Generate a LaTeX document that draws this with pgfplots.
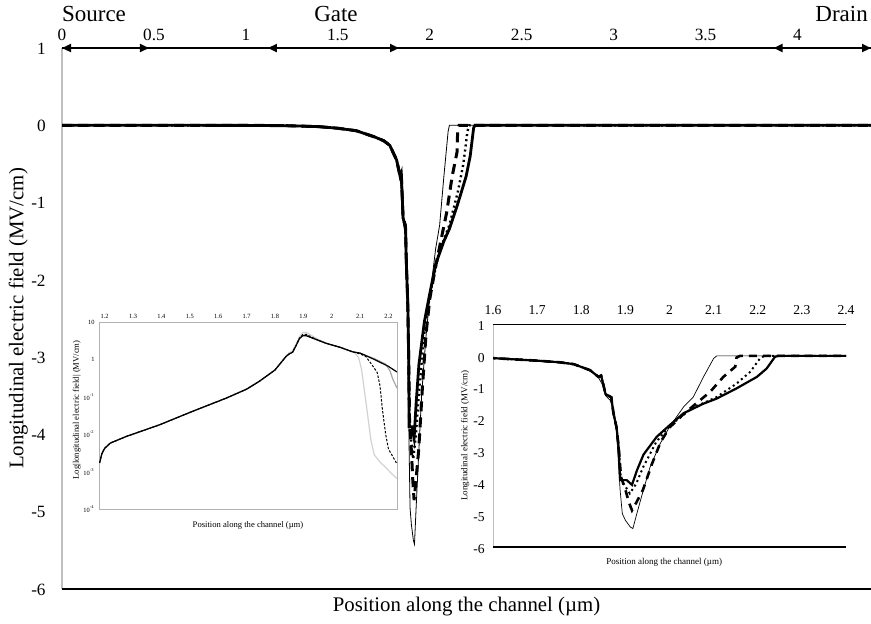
\documentclass[border=0pt]{standalone}
\usepackage{fontspec}
\setmainfont{Liberation Serif}
\usepackage{pgfplots}
\pgfplotsset{compat=1.18}
\usepackage{pgfplotstable}
\usetikzlibrary{arrows.meta}

% ---- linear data (position um, field MV/cm) ----
\pgfplotstableread{
x y
0 0
0.5 0
1.0 -0.001
1.2 -0.004
1.3 -0.01
1.4 -0.018
1.5 -0.038
1.6 -0.07
1.7 -0.15
1.75 -0.2
1.783 -0.26
1.82 -0.45
1.839 -0.66
1.845 -0.62
1.85 -0.9
1.855 -1.2
1.868 -1.3
1.873 -1.8
1.88 -2.25
1.885 -2.9
1.888 -3.9
1.903 -3.9
1.915 -4.05
1.926 -3.6
1.941 -3.1
1.971 -2.54
2.0 -2.18
2.032 -1.8
2.077 -1.5
2.107 -1.34
2.152 -1.02
2.198 -0.66
2.22 -0.4
2.239 -0.03
2.247 0
2.4 0
4.4 0
}\thickdata

\pgfplotstableread{
x y
0 0
0.5 0
1.0 -0.001
1.2 -0.004
1.3 -0.01
1.4 -0.018
1.5 -0.038
1.6 -0.07
1.7 -0.15
1.75 -0.2
1.783 -0.26
1.82 -0.45
1.839 -0.68
1.85 -0.95
1.855 -1.25
1.866 -1.4
1.873 -1.75
1.88 -2.4
1.884 -3.3
1.888 -4.2
1.893 -4.95
1.9 -5.16
1.911 -5.37
1.917 -5.42
1.926 -4.95
1.941 -4.2
1.956 -3.49
1.979 -2.75
2.0 -2.23
2.032 -1.6
2.054 -1.29
2.077 -0.66
2.1 -0.08
2.107 0
4.4 0
}\thindata

\pgfplotstableread{
x y
0 0
0.5 0
1.0 -0.001
1.2 -0.004
1.3 -0.01
1.4 -0.018
1.5 -0.038
1.6 -0.07
1.7 -0.15
1.75 -0.2
1.783 -0.26
1.82 -0.45
1.839 -0.66
1.845 -0.62
1.85 -0.9
1.855 -1.2
1.868 -1.3
1.873 -1.8
1.88 -2.25
1.885 -2.9
1.89 -3.8
1.9 -4.2
1.908 -4.6
1.915 -4.85
1.925 -4.6
1.94 -4.2
1.96 -3.4
1.98 -2.7
2.0 -2.25
2.03 -1.85
2.06 -1.5
2.092 -1.13
2.122 -0.66
2.149 -0.34
2.152 -0.05
2.16 0
4.4 0
}\dashdata

\pgfplotstableread{
x y
0 0
0.5 0
1.0 -0.001
1.2 -0.004
1.3 -0.01
1.4 -0.018
1.5 -0.038
1.6 -0.07
1.7 -0.15
1.75 -0.2
1.783 -0.26
1.82 -0.45
1.839 -0.66
1.845 -0.62
1.85 -0.9
1.855 -1.2
1.868 -1.3
1.873 -1.8
1.88 -2.25
1.885 -2.9
1.89 -3.9
1.9 -4.1
1.91 -4.32
1.925 -4.0
1.94 -3.5
1.97 -2.7
2.0 -2.2
2.05 -1.65
2.107 -1.29
2.152 -0.87
2.183 -0.5
2.205 -0.08
2.215 0
4.4 0
}\dotdata

% ---- log inset data (|E|, MV/cm) ----
\pgfplotstableread{
x y
1.182 0.0017
1.19 0.003
1.2 0.0042
1.22 0.0058
1.276 0.0087
1.393 0.0178
1.51 0.041
1.628 0.092
1.7 0.16
1.745 0.26
1.8 0.52
1.839 1.2
1.85 1.4
1.862 1.55
1.875 2.4
1.886 3.6
1.898 4.3
1.91 4.3
1.95 3.3
1.98 2.7
2.03 2.1
2.073 1.6
2.1 1.48
2.15 1.0
2.2 0.65
2.23 0.46
}\logblack

\pgfplotstableread{
x y
1.182 0.0017
1.19 0.003
1.2 0.0042
1.22 0.0058
1.276 0.0087
1.393 0.0178
1.51 0.041
1.628 0.092
1.7 0.16
1.745 0.26
1.8 0.52
1.839 1.2
1.85 1.4
1.862 1.55
1.875 2.4
1.886 3.6
1.898 4.4
1.91 4.4
1.95 3.3
1.98 2.7
2.03 2.1
2.073 1.6
2.1 1.45
2.15 1.05
2.19 0.75
2.205 0.5
2.215 0.3
2.23 0.17
}\loggray

\pgfplotstableread{
x y
1.182 0.0017
1.19 0.003
1.2 0.0042
1.22 0.0058
1.276 0.0087
1.393 0.0178
1.51 0.041
1.628 0.092
1.7 0.16
1.745 0.26
1.8 0.52
1.839 1.2
1.85 1.4
1.862 1.55
1.875 2.4
1.886 3.6
1.898 4.6
1.91 4.7
1.95 3.3
1.98 2.7
2.03 2.1
2.073 1.6
2.1 1.4
2.12 1.2
2.14 0.75
2.16 0.45
2.17 0.2
2.178 0.05
2.19 0.01
2.2 0.004
2.23 0.0016
}\logdash

\pgfplotstableread{
x y
1.182 0.0017
1.19 0.003
1.2 0.0042
1.22 0.0058
1.276 0.0087
1.393 0.0178
1.51 0.041
1.628 0.092
1.7 0.16
1.745 0.26
1.8 0.52
1.839 1.2
1.85 1.5
1.862 1.7
1.875 2.6
1.886 4.0
1.898 5.2
1.91 5.3
1.95 3.5
1.98 2.75
2.03 2.1
2.08 1.55
2.095 1.1
2.105 0.55
2.115 0.15
2.125 0.04
2.138 0.007
2.15 0.0028
2.17 0.0018
2.19 0.0013
2.21 0.0009
2.23 0.00065
}\loglight

\begin{document}
\begin{tikzpicture}
\path[use as bounding box] (-31pt,-17pt) rectangle (404.5pt,294.5pt);

% ================= main axis =================
\begin{axis}[
  at={(0pt,0pt)}, anchor=south west,
  scale only axis, width=404.5pt, height=270.5pt,
  xmin=0, xmax=4.4, ymin=-6, ymax=1,
  clip=false,
  axis line style={draw=none},
  xtick={0,0.5,1,1.5,2,2.5,3,3.5,4},
  xticklabels={0,0.5,1,1.5,2,2.5,3,3.5,4},
  xticklabel pos=upper,
  ytick={-6,-5,-4,-3,-2,-1,0,1},
  yticklabels={-6,-5,-4,-3,-2,-1,0,1},
  major tick length=0pt,
  tick label style={font=\fontsize{8.6}{10}\selectfont, inner sep=0pt, text height=1.45ex, text depth=0.1ex},
  xticklabel style={yshift=3.3pt},
  yticklabel style={xshift=-8pt},
  xlabel={Position along the channel (µm)},
  ylabel={Longitudinal electric field (MV/cm)},
  label style={font=\fontsize{10.4}{12}\selectfont},
  xlabel style={at={(axis description cs:0.5,-0.033)}, anchor=center},
  ylabel style={at={(axis description cs:-0.054,0.5)}, anchor=center},
]
\draw[gray!50, line width=0.6pt] (rel axis cs:0,0) -- (rel axis cs:0,1);
\draw[black, line width=0.8pt] (rel axis cs:0,0) -- (rel axis cs:1,0);
\draw[black, line width=0.8pt] (rel axis cs:0,1) -- (rel axis cs:1,1);
\draw[black, line width=1pt, {Triangle[length=4.5pt,width=4pt]}-{Triangle[length=4.5pt,width=4pt]}] (axis cs:0,1) -- (axis cs:0.473,1);
\draw[black, line width=1pt, {Triangle[length=4.5pt,width=4pt]}-{Triangle[length=4.5pt,width=4pt]}] (axis cs:1.12,1) -- (axis cs:1.833,1);
\draw[black, line width=1pt, {Triangle[length=4.5pt,width=4pt]}-{Triangle[length=4.5pt,width=4pt]}] (axis cs:3.87,1) -- (axis cs:4.4,1);
\node[font=\fontsize{11.5}{13}\selectfont, inner sep=0pt] at (axis cs:0.174,1.435) {Source};
\node[font=\fontsize{11.5}{13}\selectfont, inner sep=0pt] at (axis cs:1.49,1.435) {Gate};
\node[font=\fontsize{11.5}{13}\selectfont, inner sep=0pt] at (axis cs:4.24,1.435) {Drain};

\addplot[black, line width=0.4pt] table {\thindata};
\addplot[black, line width=1.5pt, dash pattern=on 5pt off 3pt] table {\dashdata};
\addplot[black, line width=1.2pt, dash pattern=on 1pt off 1.6pt] table {\dotdata};
\addplot[black, line width=1.4pt] table {\thickdata};
\end{axis}

% ================= left inset (log) =================
\begin{axis}[
  at={(18.5pt,40pt)}, anchor=south west,
  scale only axis, width=149pt, height=93.5pt,
  xmin=1.18, xmax=2.23, ymode=log, ymin=1e-4, ymax=10,
  axis background/.style={fill=white},
  axis line style={gray!60, line width=0.5pt},
  xtick={1.2,1.3,1.4,1.5,1.6,1.7,1.8,1.9,2.0,2.1,2.2},
  xticklabels={1.2,1.3,1.4,1.5,1.6,1.7,1.8,1.9,2,2.1,2.2},
  xticklabel pos=upper,
  ytick={1e-4,1e-3,1e-2,1e-1,1,10},
  yticklabels={10\textsuperscript{-4},10\textsuperscript{-3},10\textsuperscript{-2},10\textsuperscript{-1},1,10},
  major tick length=0pt, minor tick length=0pt,
  tick label style={font=\fontsize{3.2}{4}\selectfont, inner sep=0.5pt},
  xticklabel style={yshift=0.5pt, text height=1.45ex, text depth=0.1ex},
  yticklabel style={xshift=-1.5pt},
  xlabel={Position along the channel (µm)},
  ylabel={Log|longitudinal electric field| (MV/cm)},
  label style={font=\fontsize{4.3}{5}\selectfont, inner sep=0pt},
  xlabel style={at={(axis description cs:0.5,-0.09)}, anchor=center},
  ylabel style={at={(axis description cs:-0.075,0.53)}, anchor=center},
]
\addplot[gray!35, line width=0.6pt] table {\loglight};
\addplot[gray!70, line width=0.6pt] table {\loggray};
\addplot[black, line width=0.5pt, dash pattern=on 1.2pt off 0.8pt] table {\logdash};
\addplot[black, line width=0.6pt] table {\logblack};
\end{axis}

% ================= right inset (linear zoom) =================
\begin{axis}[
  at={(215.5pt,21pt)}, anchor=south west,
  scale only axis, width=176.5pt, height=111.5pt,
  xmin=1.6, xmax=2.4, ymin=-6, ymax=1,
  axis background/.style={fill=white},
  axis line style={draw=none},
  xtick={1.6,1.7,1.8,1.9,2.0,2.1,2.2,2.3,2.4},
  xticklabels={1.6,1.7,1.8,1.9,2,2.1,2.2,2.3,2.4},
  xticklabel pos=upper,
  ytick={-6,-5,-4,-3,-2,-1,0,1},
  yticklabels={-6,-5,-4,-3,-2,-1,0,1},
  major tick length=0pt,
  tick label style={font=\fontsize{6.8}{8}\selectfont, inner sep=0pt, text height=1.45ex, text depth=0.1ex},
  xticklabel style={yshift=4pt},
  yticklabel style={xshift=-4pt},
  xlabel={Position along the channel (µm)},
  ylabel={Longitudinal electric field (MV/cm)},
  label style={font=\fontsize{4.5}{5.5}\selectfont, inner sep=0pt},
  xlabel style={at={(axis description cs:0.485,-0.067)}, anchor=center},
  ylabel style={at={(axis description cs:-0.079,0.5)}, anchor=center},
]
\draw[gray!50, line width=0.5pt] (rel axis cs:0,0) -- (rel axis cs:0,1);
\draw[black, line width=0.7pt] (rel axis cs:0,0) -- (rel axis cs:1,0);
\draw[black, line width=0.6pt] (rel axis cs:0,1) -- (rel axis cs:1,1);
\addplot[black, line width=0.35pt] table {\thindata};
\addplot[black, line width=1.3pt, dash pattern=on 4pt off 3pt] table {\dashdata};
\addplot[black, line width=1.0pt, dash pattern=on 1pt off 1.6pt] table {\dotdata};
\addplot[black, line width=1.1pt] table {\thickdata};
\end{axis}
\end{tikzpicture}
\end{document}
